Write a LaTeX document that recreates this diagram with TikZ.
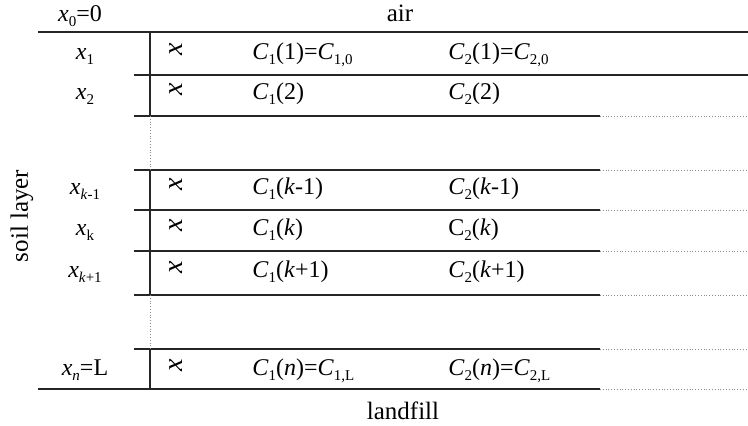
\documentclass[tikz,border=0pt]{standalone}
\usepackage{fontspec}
\setmainfont{Liberation Serif}
\newcommand{\lowsub}[1]{\raisebox{-0.45ex}{\fontsize{7.5}{8}\selectfont #1}}
\newcommand{\xv}[1]{\textit{x}\lowsub{#1}}
\newcommand{\Cv}[1]{\textit{C}\lowsub{#1}}

\begin{document}
\begin{tikzpicture}[x=0.5pt, y=-0.5pt,
  lbl/.style={font=\fontsize{12}{14}\selectfont, inner sep=0pt},
  wrd/.style={font=\fontsize{12.5}{15}\selectfont, inner sep=0pt},
  xmark/.style={rotate=90, font=\fontsize{14}{16}\selectfont\itshape, inner sep=0pt},
  solidln/.style={line width=0.75pt, black!85},
  dotln/.style={line width=0.4pt, densely dotted, black!45}]
\useasboundingbox (0,0) rectangle (748,426);
% top and bottom media
\node[lbl, anchor=base](x0) at (80,22){\xv{0}=0};
\node[wrd, anchor=base](air) at (400,22){air};
\node[wrd, anchor=base](landfill) at (403,419){landfill};
\node[wrd, rotate=90](soil) at (22,216){soil layer};
% grid
\draw[solidln, line width=1pt] (38,32) -- (748,32);
\draw[solidln] (134,75) -- (748,75);
\foreach \y in {116,170,210,251,295,349}{
  \draw[solidln] (134,\y) -- (600,\y);
  \draw[dotln] (600,\y) -- (748,\y);
}
\draw[solidln] (38,389) -- (600,389);
\draw[dotln] (600,389) -- (748,389);
\draw[solidln] (150,32) -- (150,116);
\draw[dotln] (150,116) -- (150,170);
\draw[solidln] (150,170) -- (150,295);
\draw[dotln] (150,295) -- (150,349);
\draw[solidln] (150,349) -- (150,389);
% nodes of the layer
\node[lbl, anchor=base](xa) at (85,60){\xv{1}};
\node[lbl, anchor=base](xb) at (85,100){\xv{2}};
\node[lbl, anchor=base](xc) at (85,195){\xv{\textit{k}-1}};
\node[lbl, anchor=base](xd) at (85,236){\xv{k}};
\node[lbl, anchor=base](xe) at (85,278){\xv{\textit{k}+1}};
\node[lbl, anchor=base](xf) at (85,376){\xv{\textit{n}}=L};
\foreach \yb/\nm in {60/a,100/b,195/c,236/d,278/e,376/f}
  \node[xmark](s\nm) at (176,\yb-11){x};
% concentrations
\node[lbl, anchor=base west](ca) at (252,60){\Cv{1}(1)=\Cv{1,0}};
\node[lbl, anchor=base west](da) at (448,60){\Cv{2}(1)=\Cv{2,0}};
\node[lbl, anchor=base west](cb) at (252,100){\Cv{1}(2)};
\node[lbl, anchor=base west](db) at (448,100){\Cv{2}(2)};
\node[lbl, anchor=base west](cc) at (252,195){\Cv{1}(\textit{k}-1)};
\node[lbl, anchor=base west](dc) at (448,195){\Cv{2}(\textit{k}-1)};
\node[lbl, anchor=base west](cd) at (252,236){\Cv{1}(\textit{k})};
\node[lbl, anchor=base west](dd) at (448,236){C\lowsub{2}(\textit{k})};
\node[lbl, anchor=base west](ce) at (252,278){\Cv{1}(\textit{k}+1)};
\node[lbl, anchor=base west](de) at (448,278){\Cv{2}(\textit{k}+1)};
\node[lbl, anchor=base west](cf) at (252,376){\Cv{1}(\textit{n})=\Cv{1,L}};
\node[lbl, anchor=base west](df) at (448,376){\Cv{2}(\textit{n})=\Cv{2,L}};
\end{tikzpicture}
\end{document}
